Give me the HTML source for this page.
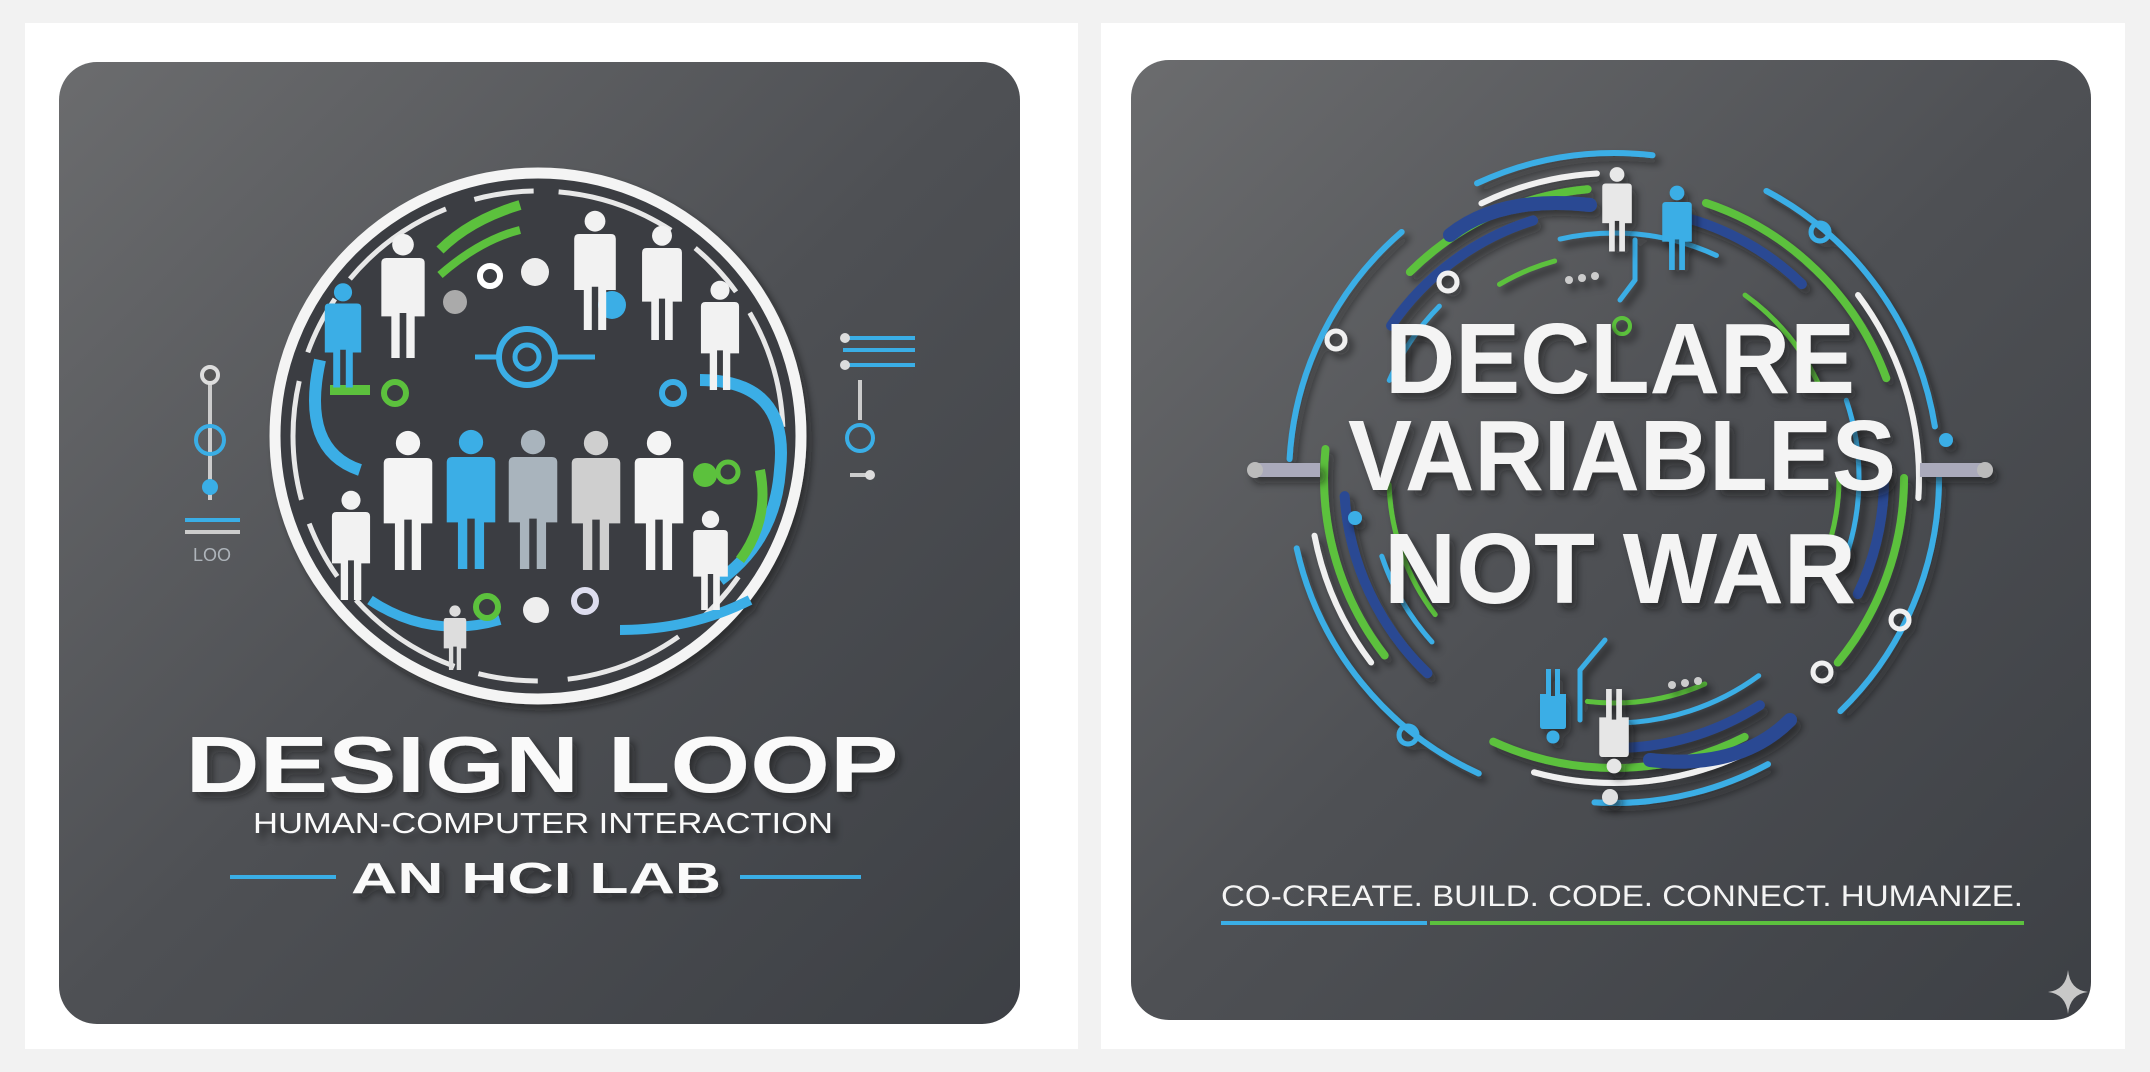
<!DOCTYPE html>
<html><head><meta charset="utf-8"><style>
html,body{margin:0;padding:0;background:#f2f2f2;}
svg{display:block}
</style></head><body>
<svg width="2150" height="1072" viewBox="0 0 2150 1072" xmlns="http://www.w3.org/2000/svg">
<defs>
<linearGradient id="pg" x1="0" y1="0" x2="1" y2="1">
<stop offset="0" stop-color="#6b6c6e"/><stop offset="0.5" stop-color="#4e5054"/><stop offset="1" stop-color="#3d4045"/>
</linearGradient>
<symbol id="p" viewBox="0 0 60 150">
<circle cx="30" cy="14" r="13"/>
<path d="M4 36 Q4 30 10 30 H50 Q56 30 56 36 V100 H44 V150 H34 V96 H26 V150 H16 V100 H4 Z"/>
</symbol>
<filter id="sh" x="-20%" y="-20%" width="140%" height="140%"><feDropShadow dx="5" dy="6" stdDeviation="4" flood-color="#111" flood-opacity="0.55"/></filter>
</defs>
<rect x="0" y="0" width="2150" height="1072" fill="#f2f2f2"/>
<rect x="25" y="23" width="1053" height="1026" fill="#fff"/>
<rect x="1101" y="23" width="1024" height="1026" fill="#fff"/>
<rect x="59" y="62" width="961" height="962" rx="38" fill="url(#pg)"/>
<rect x="1131" y="60" width="960" height="960" rx="38" fill="url(#pg)"/>

<!-- LEFT EMBLEM -->
<g filter="url(#sh)">
<circle cx="538" cy="436" r="263" fill="#3a3d42" stroke="#f4f4f4" stroke-width="11"/>
<circle cx="538" cy="436" r="245" fill="none" stroke="#e8e8e8" stroke-width="5" stroke-dasharray="120 30 60 25"/>
<path d="M320 360 Q300 450 360 470" fill="none" stroke="#3aaee6" stroke-width="12"/>
<path d="M700 380 Q790 380 780 470 Q775 540 720 580" fill="none" stroke="#3aaee6" stroke-width="12"/>
<path d="M440 250 Q470 220 520 205" fill="none" stroke="#5cc13e" stroke-width="10"/>
<path d="M440 275 Q480 240 520 230" fill="none" stroke="#5cc13e" stroke-width="8"/>
<path d="M760 470 Q770 520 740 560" fill="none" stroke="#5cc13e" stroke-width="10"/>
<path d="M330 390 H370" stroke="#5cc13e" stroke-width="10"/>
<path d="M370 600 Q430 640 500 620 M620 630 Q690 630 750 600" fill="none" stroke="#3aaee6" stroke-width="10"/>
<circle cx="395" cy="393" r="11" fill="none" stroke="#5cc13e" stroke-width="6"/>
<circle cx="673" cy="393" r="11" fill="none" stroke="#3aaee6" stroke-width="6"/>
<circle cx="490" cy="276" r="10" fill="none" stroke="#fff" stroke-width="6"/>
<circle cx="535" cy="272" r="14" fill="#eee"/>
<circle cx="455" cy="302" r="12" fill="#aaa"/>
<circle cx="612" cy="305" r="14" fill="#3aaee6"/>
<circle cx="527" cy="357" r="28" fill="none" stroke="#3aaee6" stroke-width="6"/>
<circle cx="527" cy="357" r="12" fill="none" stroke="#3aaee6" stroke-width="5"/>
<path d="M475 357 H499 M555 357 H595" stroke="#3aaee6" stroke-width="5"/>
<circle cx="487" cy="607" r="11" fill="none" stroke="#5cc13e" stroke-width="6"/>
<circle cx="536" cy="610" r="13" fill="#eee"/>
<circle cx="585" cy="601" r="11" fill="none" stroke="#dde" stroke-width="6"/>
<circle cx="705" cy="475" r="12" fill="#5cc13e"/>
<circle cx="728" cy="472" r="10" fill="none" stroke="#5cc13e" stroke-width="5"/>
<use href="#p" x="378" y="228" width="50" height="135" fill="#f2f2f2"/>
<use href="#p" x="322" y="280" width="42" height="110" fill="#3aaee6"/>
<use href="#p" x="570" y="210" width="50" height="120" fill="#f2f2f2"/>
<use href="#p" x="637" y="225" width="50" height="115" fill="#f2f2f2"/>
<use href="#p" x="695" y="280" width="50" height="110" fill="#f2f2f2"/>
<use href="#p" x="327" y="490" width="48" height="110" fill="#f2f2f2"/>
<use href="#p" x="688" y="510" width="45" height="100" fill="#f2f2f2"/>
<use href="#p" x="435" y="605" width="40" height="65" fill="#ddd"/>
<use href="#p" x="380" y="420" width="56" height="160" fill="#f4f4f4"/>
<use href="#p" x="443" y="418" width="56" height="162" fill="#3aaee6"/>
<use href="#p" x="505" y="418" width="56" height="162" fill="#a9b4bd"/>
<use href="#p" x="568" y="420" width="56" height="160" fill="#cfcfcf"/>
<use href="#p" x="631" y="420" width="56" height="160" fill="#f4f4f4"/>
</g>
<g stroke="#3aaee6" stroke-width="4" fill="none">
<line x1="210" y1="380" x2="210" y2="500" stroke="#ccc"/>
<circle cx="210" cy="375" r="8" stroke="#ddd" fill="#555"/>
<circle cx="210" cy="440" r="14"/>
<circle cx="210" cy="487" r="6" fill="#3aaee6"/>
<line x1="185" y1="520" x2="240" y2="520"/><line x1="185" y1="532" x2="240" y2="532" stroke="#ccc"/>
</g>
<text x="212" y="561" font-family="Liberation Sans,sans-serif" font-size="18" fill="#aeb4ba" text-anchor="middle">LOO</text>
<g stroke="#3aaee6" stroke-width="4" fill="none">
<line x1="843" y1="338" x2="915" y2="338"/><line x1="843" y1="350" x2="915" y2="350"/><line x1="843" y1="365" x2="915" y2="365"/>
<circle cx="845" cy="338" r="5" fill="#ddd" stroke="none"/><circle cx="845" cy="365" r="5" fill="#ddd" stroke="none"/>
<line x1="860" y1="380" x2="860" y2="420" stroke="#ccc"/>
<circle cx="860" cy="438" r="13"/>
<line x1="850" y1="475" x2="870" y2="475" stroke="#ccc"/><circle cx="870" cy="475" r="5" fill="#ddd" stroke="none"/>
</g>
<g font-family="Liberation Sans,sans-serif" fill="#fafafa" text-anchor="middle" filter="url(#sh)">
<text x="542" y="792" font-size="80" font-weight="bold" textLength="713" lengthAdjust="spacingAndGlyphs">DESIGN LOOP</text>
<text x="543" y="833" font-size="29" textLength="580" lengthAdjust="spacingAndGlyphs">HUMAN-COMPUTER INTERACTION</text>
<text x="536" y="893" font-size="44" font-weight="bold" textLength="370" lengthAdjust="spacingAndGlyphs">AN HCI LAB</text>
</g>
<line x1="230" y1="877" x2="336" y2="877" stroke="#3aaee6" stroke-width="4"/>
<line x1="740" y1="877" x2="861" y2="877" stroke="#3aaee6" stroke-width="4"/>

<!-- RIGHT EMBLEM -->
<g fill="none" stroke-linecap="round" filter="url(#sh)">
<circle cx="1614" cy="478" r="325" stroke="#3aaee6" stroke-width="6" stroke-dasharray="260 90 180 120 300 90"/>
<circle cx="1614" cy="478" r="305" stroke="#f0f0f0" stroke-width="6" stroke-dasharray="120 300 240 200 140 400" stroke-dashoffset="100"/>
<circle cx="1614" cy="478" r="290" stroke="#5cc13e" stroke-width="8" stroke-dasharray="200 120 260 140 220 200"/>
<circle cx="1614" cy="478" r="270" stroke="#2a4a93" stroke-width="10" stroke-dasharray="180 150 140 220 200 180" stroke-dashoffset="60"/>
<circle cx="1614" cy="478" r="245" stroke="#3aaee6" stroke-width="5" stroke-dasharray="90 140 160 200 100 180"/>
<circle cx="1614" cy="478" r="225" stroke="#5cc13e" stroke-width="5" stroke-dasharray="60 200 120 180 140 240"/>
<path d="M1590 205 Q1500 195 1450 235" stroke="#2a4a93" stroke-width="14"/>
<path d="M1650 760 Q1740 770 1790 720" stroke="#2a4a93" stroke-width="14"/>
<path d="M1635 240 L1635 280 L1620 300" stroke="#3aaee6" stroke-width="5"/>
<path d="M1605 640 L1580 670 L1580 720" stroke="#3aaee6" stroke-width="5"/>
<circle cx="1336" cy="340" r="9" stroke="#f0f0f0" stroke-width="5"/>
<circle cx="1448" cy="282" r="9" stroke="#f0f0f0" stroke-width="5"/>
<circle cx="1820" cy="232" r="9" stroke="#3aaee6" stroke-width="5"/>
<circle cx="1900" cy="620" r="9" stroke="#f0f0f0" stroke-width="5"/>
<circle cx="1822" cy="672" r="9" stroke="#f0f0f0" stroke-width="5"/>
<circle cx="1408" cy="735" r="9" stroke="#3aaee6" stroke-width="5"/>
<circle cx="1622" cy="326" r="8" stroke="#5cc13e" stroke-width="4"/>
</g>
<g filter="url(#sh)">
<use href="#p" x="1600" y="148" width="34" height="122" fill="#e8e8e8"/>
<use href="#p" x="1660" y="180" width="34" height="95" fill="#3aaee6"/>
<use href="#p" x="1597" y="685" width="34" height="95" fill="#e6e6e6" transform="rotate(180 1614 732)"/>
<use href="#p" x="1538" y="665" width="30" height="85" fill="#3aaee6" transform="rotate(180 1553 707)"/>
<circle cx="1610" cy="797" r="8" fill="#e0e0e0"/>
<path d="M1255 470 H1320 M1985 470 H1920" stroke="#aab" stroke-width="14"/>
<circle cx="1255" cy="470" r="8" fill="#bbb"/><circle cx="1985" cy="470" r="8" fill="#bbb"/>
<circle cx="1355" cy="518" r="7" fill="#3aaee6"/><circle cx="1946" cy="440" r="7" fill="#3aaee6"/>
<circle cx="1569" cy="280" r="4" fill="#ccc"/><circle cx="1582" cy="278" r="4" fill="#ccc"/><circle cx="1595" cy="276" r="4" fill="#ccc"/>
<circle cx="1672" cy="685" r="4" fill="#ccc"/><circle cx="1685" cy="683" r="4" fill="#ccc"/><circle cx="1698" cy="681" r="4" fill="#ccc"/>
</g>
<g font-family="Liberation Sans,sans-serif" font-weight="bold" fill="#f4f4f4" text-anchor="middle" filter="url(#sh)">
<text x="1620" y="393" font-size="100" textLength="470" lengthAdjust="spacingAndGlyphs">DECLARE</text>
<text x="1622" y="490" font-size="100" textLength="548" lengthAdjust="spacingAndGlyphs">VARIABLES</text>
<text x="1620" y="603" font-size="100" textLength="472" lengthAdjust="spacingAndGlyphs">NOT WAR</text>
</g>
<text x="1622" y="906" font-family="Liberation Sans,sans-serif" font-size="30" fill="#f4f4f4" text-anchor="middle" textLength="802" lengthAdjust="spacingAndGlyphs">CO-CREATE. BUILD. CODE. CONNECT. HUMANIZE.</text>
<line x1="1221" y1="923" x2="1427" y2="923" stroke="#3aaee6" stroke-width="4"/>
<line x1="1430" y1="923" x2="2024" y2="923" stroke="#5cc13e" stroke-width="4"/>
<path d="M2068 970 Q2070 990 2088 992 Q2070 994 2068 1014 Q2066 994 2048 992 Q2066 990 2068 970 Z" fill="#c8c8c8"/>
</svg>
</body></html>
